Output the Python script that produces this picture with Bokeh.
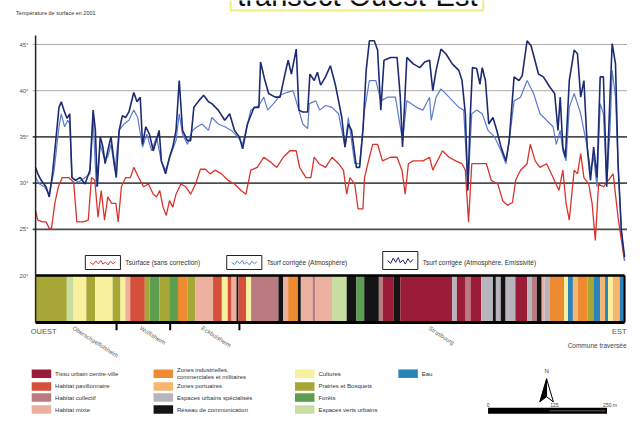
from bokeh.plotting import figure
from bokeh.layouts import column
from bokeh.models import FixedTicker
from bokeh.core.properties import value
from bokeh.embed import file_html
from bokeh.resources import INLINE

# ---------------- data ----------------
# distance along the west -> east transect (arbitrary units)
dist_emis = [0, 2.3, 5.7, 10.7, 14, 17.3, 20.7, 24, 26.3, 29, 32.3, 35, 37.3, 40.7, 45.7, 50.7, 55.7, 59, 61.3,
             63.3, 66.3, 69, 71.3, 74, 77.3, 80.7, 82.7, 85.7, 89, 92.3, 95.7, 100.7, 104, 107.3, 109.7, 113,
             116.7, 120.7, 126.7, 129, 133.3, 137.3, 140.7, 144, 147.3, 150.7, 155.7, 159, 162.3, 167.3, 172.3,
             177.3, 180.7, 187.3, 194, 199, 204, 209, 212.3, 217.3, 224, 229, 230.7, 234.7, 239, 245.7, 250.7,
             255.7, 259, 262.3, 267.3, 270, 274, 279, 281.3, 285.7, 289, 292.3, 297.3, 302.3, 307.3, 310.7, 314,
             317.3, 320.7, 324, 329, 332.3, 335.7, 339, 342.3, 347.3, 350.7, 354, 357.3, 364, 370.7, 374, 376.3,
             380.7, 387.3, 394, 399, 404, 407.3, 410.7, 415.7, 420.7, 427.3, 434, 437.3, 440.7, 443.3, 445.7,
             448, 452.3, 455.7, 458, 461.3, 464.7, 469, 473, 477.3, 482.3, 485.7, 490.7, 495.7, 499, 504, 508,
             511.3, 515.7, 520.7, 527.3, 532.3, 535.7, 538, 540.7, 543.3, 547.3, 552.3, 555.7, 559, 562.3, 565.7,
             569, 572.3, 575.7, 579, 582.3, 585.7, 589, 591.3, 594.7, 597.3, 600.7, 604]
t_emis = [31.7, 31.0, 30.3, 29.6, 28.5, 31.0, 34.6, 38.2, 38.8, 37.9, 37.0, 37.5, 30.6, 30.3, 30.6, 29.9, 31.4,
          37.9, 35.7, 29.6, 35.0, 33.9, 32.1, 33.5, 35.0, 32.1, 30.6, 35.7, 37.3, 37.1, 37.7, 39.8, 38.8, 39.3,
          34.2, 36.1, 35.3, 33.5, 35.7, 32.4, 31.0, 32.8, 33.9, 35.7, 41.1, 35.7, 34.6, 34.6, 38.2, 38.9, 39.5,
          38.8, 38.6, 37.9, 36.8, 37.5, 35.7, 35.0, 33.7, 36.4, 38.2, 38.2, 43.1, 41.3, 39.7, 39.3, 39.3, 41.8,
          43.3, 41.8, 44.5, 37.9, 37.7, 37.7, 41.8, 41.1, 42.0, 40.6, 41.5, 42.7, 40.7, 38.9, 37.1, 33.9, 36.4,
          35.7, 31.7, 31.7, 35.7, 42.2, 45.4, 45.4, 44.4, 37.9, 43.3, 43.6, 43.6, 39.3, 33.9, 43.6, 42.9, 42.5,
          43.1, 43.3, 40.0, 42.2, 44.5, 44.0, 42.9, 42.2, 41.1, 37.5, 29.2, 37.1, 42.5, 42.4, 40.7, 42.5, 41.1,
          36.4, 37.1, 35.7, 33.9, 32.4, 34.6, 41.5, 41.1, 41.6, 45.4, 44.9, 43.6, 41.8, 41.5, 40.4, 39.7, 35.7,
          39.3, 33.9, 32.8, 41.1, 44.4, 44.0, 39.3, 41.1, 33.9, 30.3, 33.9, 30.6, 41.5, 41.5, 29.6, 39.3, 45.1,
          42.9, 32.1, 24.9, 22.0]

dist_atmo = [0, 4, 9, 14, 19, 24, 26.3, 29.7, 33, 35, 37.3, 44, 50.7, 55.7, 59, 62.3, 66.3, 70, 74, 77.3, 81.3,
             85.7, 90.7, 95.7, 100.7, 104.7, 109.7, 114, 119, 124, 129, 133.3, 139, 144, 147.3, 150.7, 155.7,
             160.7, 165.7, 170.7, 177.3, 180.7, 187.3, 194, 200.7, 207.3, 212.3, 220.7, 229, 234, 238, 244, 250.7,
             257.3, 264, 270, 274, 279, 280.7, 287.3, 291.3, 297.3, 304, 310.7, 317.3, 320.7, 327.3, 332.3, 337.3,
             342.3, 349, 354, 360.7, 369, 376.3, 380.7, 390.7, 397.3, 404, 405.7, 410.7, 415.7, 424, 434, 439,
             443.3, 447.3, 452.3, 458, 464, 470.7, 477.3, 482.3, 485.7, 490.7, 497.3, 504, 510.7, 517.3, 524,
             530.7, 534, 538, 540.7, 544, 547.3, 552.3, 555.7, 559, 562.3, 565.7, 569, 572.3, 575.7, 579, 582.3,
             585.7, 589, 591.3, 594.7, 597.3, 600.7, 604]
t_atmo = [30.6, 29.9, 29.6, 28.8, 31.4, 36.1, 37.5, 36.1, 36.8, 36.4, 30.6, 30.1, 30.6, 31.0, 36.8, 29.6, 34.2,
          32.8, 32.8, 34.2, 31.4, 35.7, 36.4, 36.8, 37.9, 37.1, 33.9, 35.3, 33.5, 35.0, 32.3, 31.4, 33.2, 34.6,
          37.5, 35.3, 34.2, 35.7, 36.1, 36.4, 35.7, 37.1, 36.4, 36.1, 35.7, 35.0, 34.2, 37.9, 38.4, 39.3, 37.9,
          38.6, 39.5, 39.8, 40.0, 37.9, 36.4, 35.9, 38.6, 38.9, 37.9, 38.4, 38.2, 37.5, 33.9, 37.1, 32.1, 32.1,
          37.9, 41.1, 41.1, 38.9, 39.3, 39.3, 34.6, 38.9, 38.2, 37.9, 39.3, 36.8, 39.3, 40.2, 39.3, 38.2, 37.9,
          29.6, 37.5, 37.9, 37.5, 35.7, 35.0, 33.5, 32.1, 34.6, 38.9, 39.3, 41.1, 39.7, 37.5, 36.8, 36.1, 34.2,
          35.7, 33.5, 32.4, 38.2, 39.7, 38.6, 37.5, 35.7, 33.9, 31.4, 32.8, 29.6, 38.6, 37.5, 29.9, 35.7, 42.2,
          39.3, 32.1, 24.9, 21.6]

dist_raw = [0, 2.3, 7.3, 10.7, 14, 16.3, 19.7, 23.3, 27.3, 34, 39, 42.3, 49, 54, 57.3, 60.7, 64, 67.3, 70.7, 74,
            78, 82.3, 84.7, 88, 92.3, 97.3, 100.7, 105.7, 110.7, 115.7, 120.7, 124, 127.3, 130.7, 134, 137.3,
            140.7, 144, 149, 154, 159, 164, 169, 174, 179, 184, 190.7, 197.3, 204, 210.7, 215.7, 220.7, 227.3,
            234, 240.7, 247.3, 254, 260.7, 267.3, 270.7, 277.3, 282.3, 285.7, 290.7, 297.3, 304, 310.7, 315.7,
            319, 322.3, 327.3, 330.7, 335.7, 337.3, 342.3, 345.7, 350.7, 355.7, 364, 370.7, 375.7, 379, 382.3,
            387.3, 397.3, 404, 407.3, 417.3, 424, 430.7, 437.3, 440.7, 444, 447.3, 454, 462.3, 467.3, 474, 479,
            484, 489, 492.3, 497.3, 504, 507.3, 512.3, 517.3, 524, 530.7, 536.7, 540.7, 544, 547.3, 552.3, 555.7,
            559, 562.3, 567.3, 570.7, 574, 577.3, 582.3, 587.3, 592.3, 597.3, 602.3, 604]
t_raw = [27.0, 26.0, 25.8, 25.8, 25.1, 25.1, 27.8, 29.6, 30.6, 30.6, 30.1, 25.8, 25.8, 26.0, 30.6, 30.3, 26.3,
         29.2, 26.0, 28.5, 27.8, 27.8, 25.8, 29.6, 30.6, 30.6, 31.7, 30.6, 29.6, 29.9, 28.8, 28.5, 29.2, 27.4,
         26.5, 28.1, 27.4, 28.8, 29.9, 29.6, 28.8, 29.9, 31.5, 31.5, 31.0, 31.4, 31.0, 30.3, 29.9, 29.2, 28.8,
         31.4, 31.7, 32.8, 32.3, 31.7, 32.8, 33.5, 33.5, 31.7, 30.6, 30.6, 32.8, 32.1, 31.7, 32.8, 32.1, 31.4,
         28.8, 30.6, 29.9, 27.2, 27.2, 30.6, 32.8, 34.2, 34.2, 32.4, 32.8, 32.8, 31.4, 28.8, 32.1, 32.4, 32.4,
         32.8, 31.4, 33.5, 32.8, 32.4, 32.1, 31.4, 25.8, 32.1, 32.1, 32.1, 30.3, 29.9, 28.1, 27.6, 27.9, 30.3,
         31.4, 32.1, 34.2, 32.4, 31.7, 32.1, 30.6, 29.2, 31.4, 27.8, 26.0, 31.4, 31.0, 33.2, 30.6, 29.9, 27.8,
         23.8, 29.9, 29.6, 30.3, 31.0, 26.3, 22.7, 21.6]

series_labels = ["Tsurface (sans correction)", "Tsurf corrigée (Atmosphère)",
                 "Tsurf corrigée (Atmosphère, Emissivité)"]

y_ticks = [20, 25, 30, 35, 40, 45]
y_tick_labels = ["20°", "25°", "30°", "35°", "40°", "45°"]

# land use classes
landuse_names = ["Tissu urbain centre-ville", "Habitat pavillonnaire", "Habitat collectif", "Habitat mixte",
                 "Zones industrielles,\ncommerciales et militaires", "Zones portuaires",
                 "Espaces urbains spécialisés", "Réseau de communication",
                 "Cultures", "Prairies et Bosquets", "Forêts", "Espaces verts urbains", "Eau"]
landuse_colors = ["#9a1c36", "#d4503a", "#b97a80", "#ecb09f", "#ee8a2f", "#f6b670", "#b8b4bd", "#141414",
                  "#f8f09c", "#a6a734", "#5d9f50", "#c8dea0", "#2a84b9"]
# land use along the transect: class index between successive edges
strip_edges = [0, 32, 39, 52, 61, 79, 87, 92, 97, 112, 117, 127, 137, 146, 156, 164, 182, 191, 197, 201, 206,
               208, 216, 221, 249, 254, 259, 269, 272, 284, 287, 304, 319, 329, 337, 352, 356, 367, 374, 427,
               432, 441, 446, 457, 469, 472, 477, 482, 492, 504, 509, 514, 519, 522, 527, 542, 546, 551, 556,
               566, 572, 579, 584, 587, 592, 599, 604]
strip_codes = [9, 11, 8, 9, 8, 9, 8, 3, 1, 9, 10, 9, 10, 4, 9, 3, 1, 8, 1, 3, 7, 1, 8, 2, 7, 3, 4, 7, 3, 2, 3,
               11, 7, 10, 7, 2, 0, 7, 0, 6, 0, 2, 0, 6, 7, 6, 7, 6, 0, 6, 2, 7, 3, 6, 4, 8, 12, 5, 4, 9, 12, 5,
               12, 8, 5, 12]

communes = ["Oberschaeffolsheim", "Wolfisheim", "Eckbolsheim", "Strasbourg"]
commune_bounds = [0, 83, 138, 209, 604]

# ---------------- layout helpers (reference pixels -> data units) ----------------
W, H_HEAD, H_MAIN = 627, 30, 385
BOT = 93 / 109.0          # squeeze of the area below the strip


def X(px):
    return px - 36


def Y(py):
    eff = py if py <= 322 else 322 + (py - 322) * BOT
    return 20 + (275 - eff) / 9.24


FONT = value("Liberation Sans")
STRIP_TOP, STRIP_BOTTOM = 20, Y(322)

# ---------------- header ----------------
head = figure(width=W, height=H_HEAD, x_range=(0, 643), y_range=(30, 0), output_backend="svg",
              toolbar_location=None, x_axis_location=None, y_axis_location=None, min_border=0,
              min_border_left=0, min_border_right=0, min_border_top=0, min_border_bottom=0,
              outline_line_color=None)
head.frame_align = False
head.xgrid.visible = False
head.ygrid.visible = False
head.quad(left=236, right=495, top=-20, bottom=10, fill_color=None, line_color="#eeee80", line_width=2)
head.text(x=[366], y=[-5], text=["transect Ouest-Est"], text_font=FONT, text_font_size="29px",
          text_color="#111111", text_align="center", text_baseline="alphabetic")
head.text(x=[16], y=[12.5], text=["Température de surface en 2001"], text_font=FONT, text_font_size="5.5px",
          text_color="#333333", text_baseline="middle")

# ---------------- main chart ----------------
p = figure(width=W, height=H_MAIN, x_range=(29 * 643 / 627 - 36, 607), y_range=(Y(431), Y(30)),
           output_backend="svg", toolbar_location=None, x_axis_location=None, y_axis_location="left",
           min_border_left=29, min_border_right=0, min_border_top=0, min_border_bottom=0,
           outline_line_color=None, background_fill_color="white", border_fill_color="white")
p.frame_align = False
p.xgrid.visible = False
p.ygrid.visible = False
ax = p.yaxis[0]
ax.ticker = FixedTicker(ticks=y_ticks)
ax.major_label_overrides = {t: l for t, l in zip(y_ticks, y_tick_labels)}
ax.axis_line_color = None
ax.major_tick_in = 0
ax.major_tick_out = 0
ax.minor_tick_line_color = None
ax.major_label_text_font_size = "6px"
ax.major_label_text_color = "#555555"
ax.major_label_text_font = "Liberation Sans"
ax.major_label_standoff = 1

# horizontal reference lines
levels = y_ticks[1:]
p.segment(x0=[X(33)] * len(levels), x1=[X(643)] * len(levels), y0=levels, y1=levels,
          line_color=["#4d4d4d" if t <= 35 else "#ababab" for t in levels],
          line_width=[1.8 if t <= 35 else 1.0 for t in levels])

# temperature profiles
p.line(dist_raw, t_raw, line_color="#d8342c", line_width=1.3)
p.line(dist_atmo, t_atmo, line_color="#5b7dcc", line_width=1.2)
p.line(dist_emis, t_emis, line_color="#1d2b73", line_width=1.6)

# line legend
box_left = [87, 232, 392]
box_top = [255, 255, 251]
icon_u = [0.0, 0.12, 0.22, 0.32, 0.42, 0.5, 0.6, 0.7, 0.8, 0.9, 1.0]
icon_v = [0.5, 0.25, 0.7, 0.35, 0.75, 0.3, 0.55, 0.2, 0.65, 0.35, 0.6]
line_colors = ["#d8342c", "#5b7dcc", "#1d2b73"]
for bl, bt, col, lab in zip(box_left, box_top, line_colors, series_labels):
    p.quad(left=X(bl), right=X(bl + 36), top=Y(bt), bottom=Y(269), fill_color="white",
           line_color="#222222", line_width=1)
    p.line([X(bl + 5 + u * 26) for u in icon_u], [Y(bt + 3 + (1 - v) * (269 - bt - 6)) for v in icon_v],
           line_color=col, line_width=1)
    p.text(x=[X(bl + 41)], y=[Y(262)], text=[lab], text_font=FONT, text_font_size="6.5px",
           text_color="#333333", text_baseline="middle")

# land use strip
p.quad(left=strip_edges[:-1], right=strip_edges[1:], top=STRIP_TOP, bottom=STRIP_BOTTOM,
       fill_color=[landuse_colors[c] for c in strip_codes], line_color=None)
p.segment(x0=[0], x1=[strip_edges[-1]], y0=[STRIP_TOP], y1=[STRIP_TOP], line_color="black", line_width=2.5)
p.segment(x0=[0], x1=[strip_edges[-1]], y0=[STRIP_BOTTOM], y1=[STRIP_BOTTOM], line_color="black",
          line_width=3)
p.segment(x0=[strip_edges[-1]], x1=[strip_edges[-1]], y0=[STRIP_BOTTOM], y1=[STRIP_TOP],
          line_color="black", line_width=2)
# vertical axis line
p.segment(x0=[0], x1=[0], y0=[STRIP_BOTTOM], y1=[Y(35)], line_color="#222222", line_width=1.5)
# commune boundaries
inner = commune_bounds[1:-1]
p.segment(x0=inner, x1=inner, y0=[STRIP_BOTTOM] * len(inner), y1=[Y(331)] * len(inner),
          line_color="black", line_width=2)
mids = [(a + b) / 2 - 3 for a, b in zip(commune_bounds[:-1], commune_bounds[1:])]
p.text(x=mids, y=[Y(328)] * len(mids), text=communes, angle=-0.57, text_font=FONT, text_font_size="6px",
       text_color="#666666", text_baseline="middle")

p.text(x=[X(31)], y=[Y(333)], text=["OUEST"], text_font=FONT, text_font_size="7.5px", text_color="#555555",
       text_baseline="middle")
p.text(x=[X(642)], y=[Y(333)], text=["EST"], text_font=FONT, text_font_size="7.5px", text_color="#555555",
       text_align="right", text_baseline="middle")
p.text(x=[X(642)], y=[Y(349)], text=["Commune traversée"], text_font=FONT, text_font_size="6.5px",
       text_color="#444444", text_align="right", text_baseline="middle")

# land use legend
col_x = [32, 157, 302, 408]
row_y = [382, 397, 410, 424]
for i, (name, colr) in enumerate(zip(landuse_names, landuse_colors)):
    cx, ry = col_x[i // 4], row_y[i % 4]
    p.quad(left=X(cx), right=X(cx + 20), top=Y(ry - 5), bottom=Y(ry + 5), fill_color=colr, line_color=None)
    lines = name.split("\n")
    for k, ln in enumerate(lines):
        ty = ry + (k - (len(lines) - 1) / 2) * 8
        p.text(x=[X(cx + 24)], y=[Y(ty)], text=[ln], text_font=FONT, text_font_size="6px",
               text_color="#333333", text_baseline="middle")

# north arrow and scale bar
ncx = 560
p.text(x=[X(ncx)], y=[Y(379)], text=["N"], text_font=FONT, text_font_size="6px", text_color="#333333",
       text_align="center", text_baseline="middle")
p.patch([X(ncx), X(ncx - 7), X(ncx)], [Y(388), Y(415), Y(409)], fill_color="black", line_color="black")
p.patch([X(ncx), X(ncx + 7), X(ncx)], [Y(388), Y(415), Y(409)], fill_color="white", line_color="black",
        line_width=1)
p.quad(left=X(500), right=X(622), top=Y(422), bottom=Y(429), fill_color="black", line_color=None)
p.segment(x0=[X(563)], x1=[X(620)], y0=[Y(425.5)], y1=[Y(425.5)], line_color="#777777", line_width=0.8)
p.text(x=[X(500), X(568)], y=[Y(418.5)] * 2, text=["0", "125"], text_font=FONT,
       text_font_size="5px", text_color="#444444", text_align="center", text_baseline="middle")
p.text(x=[X(618)], y=[Y(418.5)], text=["250 m"], text_font=FONT,
       text_font_size="5px", text_color="#444444", text_baseline="middle")

layout = column(head, p, spacing=0)
open("out.html", "w").write(file_html(layout, INLINE))
